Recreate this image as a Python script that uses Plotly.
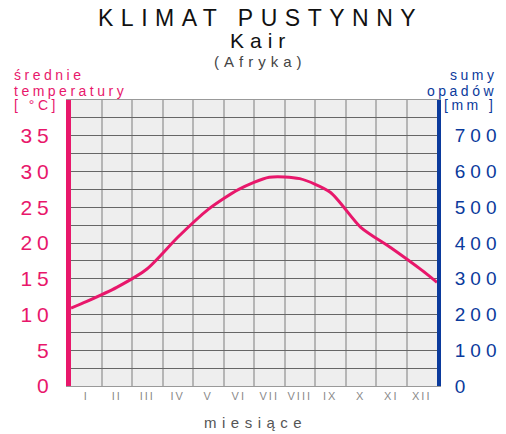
import plotly.graph_objects as go

# data
miesiace = ['I', 'II', 'III', 'IV', 'V', 'VI', 'VII', 'VIII', 'IX', 'X', 'XI', 'XII']
nr_miesiaca = [1, 2, 3, 4, 5, 6, 7, 8, 9, 10, 11, 12]
temperatura = [11.8, 13.8, 16.4, 20.8, 24.7, 27.5, 29.2, 29.0, 27.1, 22.2, 19.3, 16.2]
# curve continues to the edges of the year
x_krawedz = [0.5, 12.5]
t_krawedz = [10.9, 14.5]
temp_ticks = [0, 5, 10, 15, 20, 25, 30, 35]
opad_ticks = [0, 100, 200, 300, 400, 500, 600, 700]

PINK = '#e8176b'
BLUE = '#0b3a9c'
GRAY = '#555555'
FONT = 'Liberation Sans, Arial, sans-serif'


def wide(s, ls):
    # the reference lettering is stretched sideways, so space the letters out
    return "<span style='letter-spacing:%gpx'>%s</span>" % (ls, s)


x_all = [x_krawedz[0]] + nr_miesiaca + [x_krawedz[1]]
t_all = [t_krawedz[0]] + temperatura + [t_krawedz[1]]

fig = go.Figure()
fig.add_trace(go.Scatter(x=x_all, y=t_all, mode='lines',
                         line=dict(color=PINK, width=3, shape='spline', smoothing=0.7),
                         showlegend=False, hoverinfo='skip'))
fig.add_trace(go.Scatter(x=[None], y=[None], yaxis='y2', showlegend=False, hoverinfo='skip'))

# page body has an 8px margin, so the figure is laid out 8px up/left
fig.update_layout(
    width=506, height=434,
    margin=dict(l=55, r=77, t=92, b=56),
    paper_bgcolor='white',
    plot_bgcolor='#eeeeee',
    font=dict(family=FONT),
    xaxis=dict(
        range=[0.5, 12.5],
        tickvals=nr_miesiaca,
        ticktext=[wide(m, 2) for m in miesiace],
        tickfont=dict(size=11, color='#8a8a8a'),
        showgrid=False, zeroline=False,
        showline=True, mirror=True, linecolor='#999999', linewidth=1,
        ticks='',
        minor=dict(tickvals=[i + 0.5 for i in nr_miesiaca[:-1]], showgrid=True,
                   gridcolor='#b5b5b5', gridwidth=2, ticks=''),
    ),
    yaxis=dict(
        range=[0, 40],
        tickvals=temp_ticks,
        ticktext=[wide(str(v), 5) for v in temp_ticks],
        tickfont=dict(size=21, color=PINK),
        showgrid=True, gridcolor='#666666', gridwidth=1,
        zeroline=False,
        showline=True, linecolor=PINK, linewidth=5,
        ticks='', ticklabelstandoff=8,
        minor=dict(dtick=2.5, showgrid=True, gridcolor='#666666', gridwidth=1, ticks=''),
    ),
    yaxis2=dict(
        range=[0, 800],
        overlaying='y', side='right',
        tickvals=opad_ticks,
        ticktext=[wide(str(v), 5) for v in opad_ticks],
        tickfont=dict(size=19, color=BLUE),
        showgrid=False, zeroline=False,
        showline=True, linecolor=BLUE, linewidth=4,
        ticks='', ticklabelstandoff=10,
    ),
)

ann = [
    dict(text=wide('KLIMAT PUSTYNNY', 7.5), x=0.519, y=1.285, font=dict(size=23, color='#111111')),
    dict(text=wide('Kair', 6), x=0.519, y=1.207, font=dict(size=21, color='#111111')),
    dict(text=wide('(Afryka)', 5), x=0.519, y=1.133, font=dict(size=15, color='#444444')),
    dict(text=wide('miesiące', 5.5), x=0.505, y=-0.126, font=dict(size=15, color=GRAY)),
]
for a in ann:
    fig.add_annotation(xref='paper', yref='paper', showarrow=False,
                       xanchor='center', yanchor='middle', **a)

lewy = ['średnie', 'temperatury', '[ °C]']
prawy = ['sumy', 'opadów', '[mm ]']
for i, y in enumerate([1.087, 1.031, 0.983]):
    fig.add_annotation(xref='paper', yref='paper', showarrow=False, x=-0.161, y=y,
                       xanchor='left', yanchor='middle', text=wide(lewy[i], 3.5),
                       font=dict(size=14, color=PINK))
    fig.add_annotation(xref='paper', yref='paper', showarrow=False, x=1.17, y=y,
                       xanchor='right', yanchor='middle', text=wide(prawy[i], 3.5),
                       font=dict(size=14, color=BLUE))

fig.write_html("out.html")
